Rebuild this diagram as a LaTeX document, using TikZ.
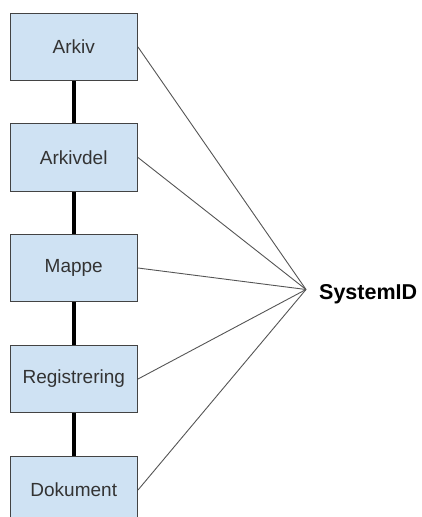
\documentclass[tikz,border=0pt]{standalone}
\usepackage{fontspec}
\setmainfont{Liberation Sans}
\definecolor{boxfill}{HTML}{CFE2F3}
\definecolor{boxline}{HTML}{434343}
\definecolor{txt}{HTML}{333333}
\definecolor{thin}{HTML}{555555}
\begin{document}
\begin{tikzpicture}[x=1pt,y=-1pt,
  entity/.style={draw=boxline, line width=1pt, fill=boxfill, minimum width=127.5pt, minimum height=67.5pt, inner sep=0pt, text=txt, font=\fontsize{19}{22}\selectfont},
  link/.style={line width=3.5pt, black},
  idline/.style={draw=thin, line width=0.9pt}]
\useasboundingbox (0,0) rectangle (422,517);
\node[entity] (arkiv) at (73.75,47) {Arkiv};
\node[entity] (arkivdel) at (73.75,157.5) {Arkivdel};
\node[entity] (mappe) at (73.75,268) {Mappe};
\node[entity] (reg) at (73.75,379) {Registrering};
\node[entity] (dok) at (73.75,490) {Dokument};
\draw[link] (arkiv) -- (arkivdel);
\draw[link] (arkivdel) -- (mappe);
\draw[link] (mappe) -- (reg);
\draw[link] (reg) -- (dok);
\coordinate (hub) at (306,289.5);
\node[anchor=west, inner sep=0pt, font=\bfseries\fontsize{21.5}{24}\selectfont] (sid) at (319,294) {SystemID};
\foreach \n in {arkiv,arkivdel,mappe,reg,dok}
  \draw[idline] (\n.east) -- (hub);
\end{tikzpicture}
\end{document}
